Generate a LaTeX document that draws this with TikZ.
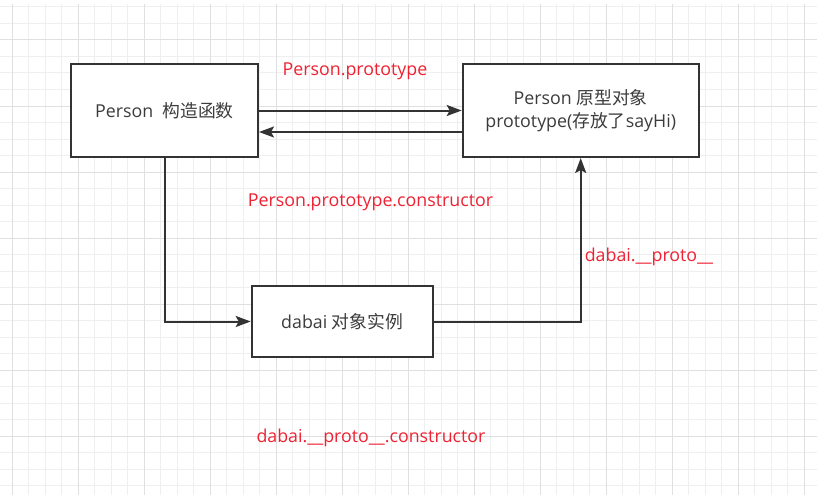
\documentclass[tikz,border=0pt]{standalone}
\usepackage{fontspec}
\setmainfont{Open Sans}
\newfontfamily\cjk{Noto Sans CJK SC}
\usetikzlibrary{positioning,arrows.meta}
\definecolor{boxgray}{HTML}{333333}
\definecolor{txtgray}{HTML}{3C3C3C}
\definecolor{lblred}{HTML}{EE2233}
\definecolor{gridminor}{HTML}{EFEFEF}
\definecolor{gridmajor}{HTML}{E0E0E0}

\begin{document}
\begin{tikzpicture}[x=1pt, y=-1pt, node distance=202.7pt, font=\fontsize{17.8}{23}\selectfont,
  box/.style={draw=boxgray, line width=2pt, fill=white, align=center, text=txtgray, inner sep=0pt},
  lbl/.style={text=lblred, inner sep=0pt},
  link/.style={draw=boxgray, line width=2pt},
  >={Stealth[length=15pt, width=11pt, inset=3pt]}]
\fill[white] (0,0) rectangle (817,495);
\useasboundingbox (0,0) rectangle (817,495);
% grid
\foreach \i in {0,...,49} \draw[gridminor, line width=1pt] ({12+16.5*\i},4) -- ++(0,491);
\foreach \i in {0,...,29} \draw[gridminor, line width=1pt] (0,{7+16.5*\i}) -- ++(817,0);
\foreach \i in {0,...,12} \draw[gridmajor, line width=1pt] ({12+66*\i},4) -- ++(0,491);
\foreach \i in {0,...,6} \draw[gridmajor, line width=1pt] (0,{40+66*\i}) -- ++(817,0);

\node[box, minimum width=187pt, minimum height=93pt] (ctor) at (164.5,110.5) {Person~~{\cjk 构造函数}};
\node[box, minimum width=236pt, minimum height=93pt, right=of ctor] (proto) {Person {\cjk 原型对象}\\prototype({\cjk 存放了}sayHi)};
\node[box, minimum width=181pt, minimum height=71.6pt] (inst) at (342.2,321.5) {dabai {\cjk 对象实例}};

\draw[link, ->] (ctor.east) -- (proto.west);
\draw[link, ->] ([yshift=-21.5pt]proto.west) -- ([yshift=-21.5pt]ctor.east);
\draw[link, ->] (ctor.south) |- (inst.west);
\draw[link, ->] (inst.east) -| (proto.south);

\node[lbl] (lproto) at (355,71.7) {Person.prototype};
\node[lbl] (lctor) at (370.5,202) {Person.prototype.constructor};
\node[lbl] (ldunder) at (649,257) {dabai.\_\_proto\_\_};
\node[lbl] (ldctor) at (371,438) {dabai.\_\_proto\_\_.constructor};
\end{tikzpicture}
\end{document}
